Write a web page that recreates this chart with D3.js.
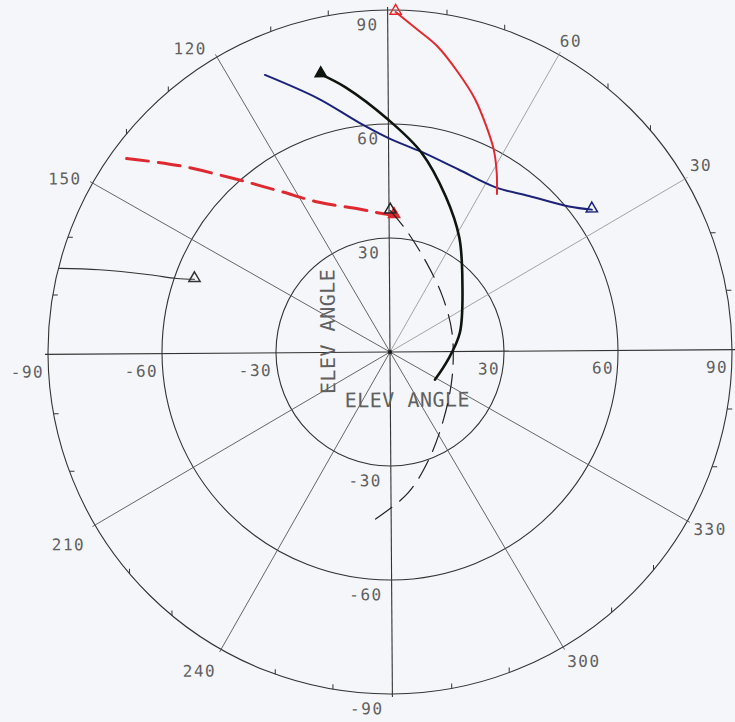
<!DOCTYPE html>
<html>
<head>
<meta charset="utf-8">
<script src="https://cdn.jsdelivr.net/npm/d3@7"></script>
<style>
  html, body { margin: 0; padding: 0; background: #f5f6fa; }
  svg { display: block; }
  text { font-family: "DejaVu Sans Mono", "Liberation Mono", monospace; fill: #606060; }
</style>
</head>
<body>
<svg id="chart" width="735" height="722"></svg>
<script>
// Elevation rings and axis labels
const ringValues = [30, 60, 90];
const axisTickValues = [-90, -60, -30, 30, 60, 90];
// Azimuth spokes (degrees, counter-clockwise from east) and their labels
const spokeAngles = [0, 30, 60, 90, 120, 150, 180, 210, 240, 270, 300, 330];
const azimuthLabels = [30, 60, 120, 150, 210, 240, 300, 330];
const minorTickAngles = d3.range(0, 360, 10).filter(a => a % 30 !== 0);
const axisTitle = "ELEV ANGLE";

// Tracks: azimuth (deg) and elevation (deg) per point
const redSolidAz   = [88.65, 84.7, 80.7, 75.9, 71.0, 66.5, 62.5, 58.9, 55.5];
const redSolidEl   = [89.5, 85.1, 81.3, 75.7, 70.2, 64.6, 59.9, 55.0, 50.2];

const blueAz = [113.9, 105.4, 97.4, 90.0, 80.6, 69.0, 56.9, 47.9, 38.7, 34.8];
const blueEl = [80.0, 69.3, 61.0, 56.3, 53.3, 51.3, 51.5, 55.0, 60.7, 65.0];

const blackSolidAz = [103.6, 99.2, 90.0, 80.6, 69.8, 58.4, 43.4, 15.2, -7.9, -31.9];
const blackSolidEl = [75.3, 70.7, 61.1, 53.1, 43.4, 35.2, 26.4, 19.1, 15.4, 13.9];

const blackDashAz = [89.5, 82.1, 67.4, 46.1, 17.0, -22.0, -52.1, -70.6, -83.1, -94.5, -96.7];
const blackDashEl = [37.2, 32.4, 25.4, 20.1, 17.1, 17.6, 22.7, 30.1, 37.4, 43.6, 45.0];

const redDashAz = [143.3, 138.2, 131.9, 124.2, 115.0, 101.8, 94.1, 87.9];
const redDashEl = [86.0, 74.2, 61.9, 51.5, 43.6, 38.5, 36.7, 36.0];

const greyAz = [165.4, 163.8, 161.8, 160.6, 159.2];
const greyEl = [89.7, 79.5, 66.5, 59.4, 54.9];

const zip = (az, el) => az.map((a, i) => ({ az: a, el: el[i] }));

const tracks = [
  { pts: zip(greyAz, greyEl), color: "#333", width: 1.1, dash: null, marker: "end", fill: false },
  { pts: zip(redDashAz, redDashEl), color: "#dd2a30", width: 3, dash: "22,10", marker: "end", fill: true },
  { pts: zip(blackDashAz, blackDashEl), color: "#222", width: 1.2, dash: "20,10", marker: "start", fill: false },
  { pts: zip(blueAz, blueEl), color: "#1c2277", width: 2, dash: null, marker: "end", fill: false },
  { pts: zip(blackSolidAz, blackSolidEl), color: "#0e140e", width: 2.6, dash: null, marker: "start", fill: true },
  { pts: zip(redSolidAz, redSolidEl), color: "#e02a30", width: 2, dash: null, marker: "start", fill: false }
];

const cx = 390, cy = 352, R = 342;
const r = d3.scaleLinear().domain([0, 90]).range([0, R]);
const toRad = d => d * Math.PI / 180;
// screen position of an (azimuth, elevation) pair
const pos = (az, el) => [r(el) * Math.cos(toRad(az)), -r(el) * Math.sin(toRad(az))];

const svg = d3.select("#chart");
const g = svg.append("g").attr("transform", `translate(${cx},${cy}) rotate(-0.4)`);

// rings
g.selectAll("circle.ring").data(ringValues).join("circle")
  .attr("class", "ring").attr("r", d => r(d))
  .attr("fill", "none").attr("stroke", "#333").attr("stroke-width", 1.1);

// spokes
g.selectAll("line.spoke").data(spokeAngles).join("line")
  .attr("class", "spoke")
  .attr("x1", 0).attr("y1", 0)
  .attr("x2", d => (R + 3) * Math.cos(toRad(d)))
  .attr("y2", d => -(R + 3) * Math.sin(toRad(d)))
  .attr("stroke", d => (d === 30 || d === 60) ? "#9a9a9a" : (d % 90 === 0 ? "#333" : "#555"))
  .attr("stroke-width", d => d % 90 === 0 ? 1.1 : 0.9);

// minor ticks on the outer ring
g.selectAll("line.minor").data(minorTickAngles).join("line")
  .attr("class", "minor")
  .attr("x1", d => R * Math.cos(toRad(d)))
  .attr("y1", d => -R * Math.sin(toRad(d)))
  .attr("x2", d => R * Math.cos(toRad(d)) + (Math.abs(Math.sin(toRad(d))) > 0.5 ? 0 : 5))
  .attr("y2", d => -R * Math.sin(toRad(d)) - (Math.abs(Math.sin(toRad(d))) > 0.5 ? 5 : 0))
  .attr("stroke", "#333").attr("stroke-width", 1);

g.append("circle").attr("r", 2.2).attr("fill", "#222");

// elevation labels along the vertical axis
g.selectAll("text.ylab").data(axisTickValues).join("text")
  .attr("class", "ylab")
  .attr("x", -9)
  .attr("y", d => -Math.sign(d) * r(Math.abs(d)) + 20)
  .attr("text-anchor", "end").attr("font-size", 16).attr("letter-spacing", 1.5)
  .text(d => d);

// elevation labels along the horizontal axis
g.selectAll("text.xlab").data(axisTickValues).join("text")
  .attr("class", "xlab")
  .attr("x", d => Math.sign(d) * r(Math.abs(d)) - 4)
  .attr("y", 23)
  .attr("text-anchor", "end").attr("font-size", 16).attr("letter-spacing", 1.5)
  .text(d => d);

// azimuth labels just outside the outer ring
const azOffset = {
  30: [5, -8], 60: [1, -8], 120: [-10, -3], 150: [-11, 1],
  210: [-10, 25], 240: [-5, 27], 300: [4, 20], 330: [6, 14]
};
g.selectAll("text.azlab").data(azimuthLabels).join("text")
  .attr("class", "azlab")
  .attr("x", d => R * Math.cos(toRad(d)) + azOffset[d][0])
  .attr("y", d => -R * Math.sin(toRad(d)) + azOffset[d][1])
  .attr("text-anchor", d => Math.cos(toRad(d)) > 0 ? "start" : "end")
  .attr("font-size", 16).attr("letter-spacing", 1.5)
  .text(d => d);

// axis titles
g.append("text")
  .attr("transform", "translate(-55,-21) rotate(-90)")
  .attr("text-anchor", "middle").attr("font-size", 20).attr("letter-spacing", 0.5)
  .text(axisTitle);
g.append("text")
  .attr("x", 17).attr("y", 55)
  .attr("text-anchor", "middle").attr("font-size", 20).attr("letter-spacing", 0.5)
  .text(axisTitle);

// tracks
const line = d3.lineRadial()
  .angle(d => toRad(90 - d.az))
  .radius(d => r(d.el))
  .curve(d3.curveCatmullRom.alpha(0.5));

const tri = d3.symbol().type(d3.symbolTriangle).size(55);

tracks.forEach(t => {
  g.append("path").attr("d", line(t.pts))
    .attr("fill", "none").attr("stroke", t.color)
    .attr("stroke-width", t.width)
    .attr("stroke-dasharray", t.dash)
    .attr("stroke-linecap", "round");
  const p = t.marker === "start" ? t.pts[0] : t.pts[t.pts.length - 1];
  const [mx, my] = pos(p.az, p.el);
  g.append("path").attr("d", tri())
    .attr("transform", `translate(${mx},${my - 1})`)
    .attr("fill", t.fill ? t.color : "none")
    .attr("stroke", t.color).attr("stroke-width", 1.5);
});
</script>
</body>
</html>
